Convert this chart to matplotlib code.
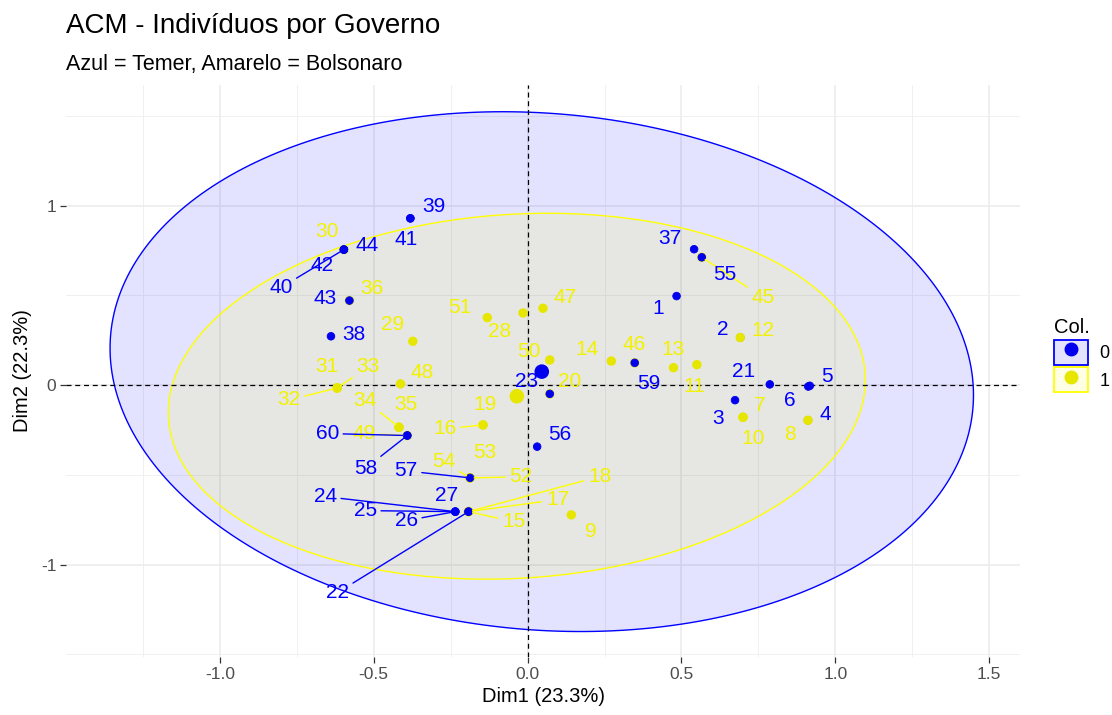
import numpy as np
import matplotlib
matplotlib.use("Agg")
import matplotlib.pyplot as plt
from matplotlib.patches import Patch, Polygon
from matplotlib.lines import Line2D
from matplotlib.legend_handler import HandlerTuple

plt.rcParams["font.family"] = ["Liberation Sans", "DejaVu Sans"]

# Coordenadas dos indivíduos
ind_id = list(range(1, 61))
grupo = [0, 0, 0, 0, 0, 0, 1, 1, 1, 1, 1, 1, 1, 1, 1, 1, 1, 1, 1, 1,
         0, 0, 0, 0, 0, 0, 0, 1, 1, 1, 1, 1, 1, 1, 1, 1, 0, 0, 0, 0,
         0, 0, 0, 0, 1, 1, 1, 1, 1, 1, 1, 1, 1, 1, 0, 0, 0, 0, 0, 0]
dim1 = [0.484, 0.691, 0.674, 0.911, 0.917, 0.912, 0.700, 0.911, 0.142, 0.700,
        0.550, 0.691, 0.474, 0.272, -0.192, -0.145, -0.192, -0.192, -0.145, 0.072,
        0.787, -0.192, 0.072, -0.235, -0.235, -0.235, -0.192, -0.015, -0.373, -0.597,
        -0.619, -0.619, -0.619, -0.418, -0.418, -0.579, 0.541, -0.639, -0.381, -0.597,
        -0.381, -0.597, -0.579, -0.597, 0.566, 0.348, 0.050, -0.413, -0.391, 0.072,
        -0.131, -0.187, -0.187, -0.187, 0.566, 0.031, -0.187, -0.391, 0.348, -0.391]
dim2 = [0.496, 0.265, -0.084, -0.196, -0.004, -0.008, -0.179, -0.196, -0.723, -0.179,
        0.114, 0.265, 0.097, 0.134, -0.705, -0.222, -0.705, -0.705, -0.222, -0.049,
        0.004, -0.705, -0.049, -0.705, -0.705, -0.705, -0.705, 0.402, 0.244, 0.755,
        -0.016, -0.016, -0.016, -0.235, -0.235, 0.471, 0.757, 0.272, 0.929, 0.755,
        0.929, 0.755, 0.471, 0.755, 0.712, 0.124, 0.428, 0.007, -0.281, 0.140,
        0.376, -0.517, -0.517, -0.517, 0.712, -0.343, -0.517, -0.281, 0.124, -0.281]

# Centro de cada grupo e elipses (centro, covariância) por grupo
centro_dim1 = [0.046, -0.035]
centro_dim2 = [0.075, -0.062]
elipse_cov = [[[1.968, -0.183], [-0.183, 2.097]],
              [[1.283, 0.102], [0.102, 1.039]]]

cores = ["#0000FF", "#FFFF00"]
cores_txt = ["#0000FF", "#F2F200"]
cores_pt = ["#0000EE", "#E6E600"]

# deslocamento dos rótulos (pixels, como o ggrepel colocou)
rotulo_desl = {
    1: (-18, -12), 2: (-18, 8), 3: (-17, -18), 4: (17, 6), 5: (17, 9), 6: (-18, -14),
    7: (17, 12), 8: (-18, -14), 9: (20, -17), 10: (10, -21), 11: (-3, -22), 12: (23, 7),
    13: (0, 18), 14: (-24, 12), 15: (45, -10), 16: (-38, -4), 17: (89, 12), 18: (131, 35),
    19: (2, 20), 20: (20, 12), 21: (-26, 13), 22: (-131, -81), 23: (-23, 12), 24: (-130, 15),
    25: (-90, 1), 26: (-49, -9), 27: (-22, 16), 28: (-23, -19), 29: (-20, 17), 30: (-17, 18),
    31: (-10, 21), 32: (-48, -12), 33: (31, 21), 34: (-34, 27), 35: (7, 23), 36: (22, 12),
    37: (-24, 11), 38: (23, 2), 39: (24, 12), 40: (-63, -38), 41: (-4, -21), 42: (-22, -16),
    43: (-24, 2), 44: (23, 4), 45: (61, -40), 46: (-1, 18), 47: (22, 11), 48: (22, 11),
    49: (-43, 2), 50: (-21, 8), 51: (-28, 10), 52: (51, 1), 53: (15, 25), 54: (-26, 16),
    55: (23, -17), 56: (23, 12), 57: (-64, 7), 58: (-42, -33), 59: (14, -21), 60: (-80, 2),
}

fig = plt.figure(figsize=(11.12, 7.15), dpi=100)
ax = fig.add_axes([66 / 1112, 1 - 657 / 715, (1020 - 66) / 1112, (657 - 85) / 715])
ax.set_xlim(-1.50, 1.60)
ax.set_ylim(-1.515, 1.672)

# grade estilo theme_minimal
ax.set_xticks([-1.0, -0.5, 0.0, 0.5, 1.0, 1.5])
ax.set_xticklabels(["-1.0", "-0.5", "0.0", "0.5", "1.0", "1.5"])
ax.set_yticks([-1, 0, 1])
ax.set_yticklabels(["-1", "0", "1"])
ax.set_xticks([-1.25, -0.75, -0.25, 0.25, 0.75, 1.25], minor=True)
ax.set_yticks([-1.5, -0.5, 0.5, 1.5], minor=True)
ax.grid(True, which="major", color="#EBEBEB", lw=1.1, zorder=0)
ax.grid(True, which="minor", color="#F0F0F0", lw=0.7, zorder=0)
ax.tick_params(which="minor", length=0)
ax.tick_params(which="major", length=4, width=0.9, color="#333333",
               labelsize=12.5, labelcolor="#4D4D4D", pad=3)
for s in ax.spines.values():
    s.set_visible(False)
ax.set_axisbelow(True)

# elipses
t = np.linspace(0, 2 * np.pi, 300)
for g in [0, 1]:
    L = np.linalg.cholesky(np.array(elipse_cov[g]))
    xy = (L @ np.vstack([np.cos(t), np.sin(t)])).T
    xy[:, 0] += centro_dim1[g]
    xy[:, 1] += centro_dim2[g]
    ax.add_patch(Polygon(xy, closed=True, facecolor=cores[g], alpha=0.11,
                         edgecolor="none", zorder=1))
    ax.add_patch(Polygon(xy, closed=True, facecolor="none", edgecolor=cores[g],
                         lw=1.0, zorder=1.5))

ax.axhline(0, color="black", ls=(0, (4, 3)), lw=0.9, zorder=2)
ax.axvline(0, color="black", ls=(0, (4, 3)), lw=0.9, zorder=2)

# pontos na ordem das linhas (borda um pouco maior no amarelo cobre o azul de baixo)
cor_ind = [cores_pt[g] for g in grupo]
borda = [0.6 if g == 0 else 1.3 for g in grupo]
ax.scatter(dim1, dim2, s=30, c=cor_ind, edgecolors=cor_ind, linewidths=borda, zorder=3)
ax.scatter(centro_dim1, centro_dim2, s=110, c=cores_pt, lw=0, zorder=3)

# rótulos
for i, x, y, g in zip(ind_id, dim1, dim2, grupo):
    dx, dy = rotulo_desl[i]
    props = None
    if np.hypot(dx, dy) > 30:
        props = dict(arrowstyle="-", color=cores[g], lw=1.0, shrinkA=1, shrinkB=3)
    ax.annotate(str(i), xy=(x, y), xytext=(dx, dy), textcoords="offset pixels",
                ha="center", va="center", fontsize=15, color=cores_txt[g],
                arrowprops=props, zorder=4)

ax.set_xlabel("Dim1 (23.3%)", fontsize=14.5, labelpad=4)
ax.set_ylabel("Dim2 (22.3%)", fontsize=14.5, labelpad=6)

fig.text(66 / 1112, 1 - 33 / 715, "ACM - Indivíduos por Governo", fontsize=20,
         ha="left", va="baseline")
fig.text(66 / 1112, 1 - 70 / 715, "Azul = Temer, Amarelo = Bolsonaro", fontsize=15.5,
         ha="left", va="baseline")

# legenda
handles = []
for g in [0, 1]:
    p = Patch(facecolor=(*matplotlib.colors.to_rgb(cores[g]), 0.11), edgecolor=cores[g], lw=1.3)
    m = Line2D([], [], marker="o", ls="", color=cores_pt[g], markersize=9)
    handles.append((p, m))
leg = fig.legend(handles, ["0", "1"], title="Col.", loc="upper left",
                 bbox_to_anchor=(1054 / 1112, 1 - 318 / 715), frameon=False,
                 fontsize=13, title_fontsize=14.5, handlelength=1.9, handleheight=1.75,
                 labelspacing=0.15, handletextpad=0.6, borderpad=0, borderaxespad=0,
                 handler_map={tuple: HandlerTuple(ndivide=1, pad=0)})
leg._legend_box.align = "left"

fig.savefig("out.png", dpi=100)
